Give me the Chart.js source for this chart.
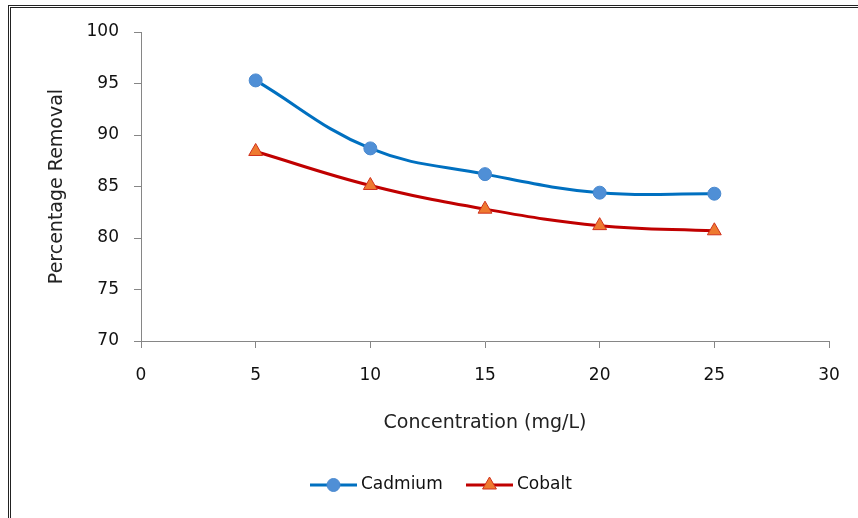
<!DOCTYPE html>
<html>
<head>
<meta charset="utf-8">
<script src="https://cdn.jsdelivr.net/npm/chart.js@4.4.1/dist/chart.umd.min.js"></script>
<style>
  html, body { margin: 0; padding: 0; background: #fff; }
  #wrap { position: relative; width: 858px; height: 518px; overflow: hidden; }
  #frame { position: absolute; left: 8px; top: 5px; right: -10px; bottom: -10px;
           border-top: 3px double #222; border-left: 3px double #222; }
  canvas { position: absolute; left: 0; top: 0; }
</style>
</head>
<body>
<div id="wrap">
  <div id="frame"></div>
  <canvas id="removalChart" width="858" height="518"></canvas>
</div>
<script>
// valores
const concentrations = [5, 10, 15, 20, 25];
const cadmiumRemoval = [95.3, 88.7, 86.2, 84.4, 84.3];
const cobaltRemoval = [88.4, 85.1, 82.8, 81.2, 80.7];
const xTicks = [0, 5, 10, 15, 20, 25, 30];
const yTicks = [70, 75, 80, 85, 90, 95, 100];

const FONT = '"DejaVu Sans", sans-serif';
const axisGray = '#868686';

const toPoints = (vals) => vals.map((v, i) => ({ x: concentrations[i], y: v }));

// leyenda propia: linea + marcador + texto
const lineLegend = {
    id: 'lineLegend',
    afterDraw(chart) {
        const ctx = chart.ctx;
        const y = 485;
        let x = 310;
        ctx.save();
        ctx.font = '17px ' + FONT;
        ctx.textBaseline = 'middle';
        chart.data.datasets.forEach(ds => {
            ctx.strokeStyle = ds.borderColor;
            ctx.lineWidth = 3;
            ctx.beginPath();
            ctx.moveTo(x, y);
            ctx.lineTo(x + 47, y);
            ctx.stroke();
            ctx.fillStyle = ds.pointBackgroundColor;
            ctx.strokeStyle = ds.pointBorderColor;
            ctx.lineWidth = ds.pointBorderWidth;
            ctx.beginPath();
            if (ds.pointStyle === 'circle') {
                ctx.arc(x + 23.5, y, ds.pointRadius, 0, Math.PI * 2);
            } else {
                const r = ds.pointRadius;
                ctx.moveTo(x + 23.5, y - r);
                ctx.lineTo(x + 23.5 + r * 0.866, y + r * 0.5);
                ctx.lineTo(x + 23.5 - r * 0.866, y + r * 0.5);
                ctx.closePath();
            }
            ctx.fill();
            ctx.stroke();
            ctx.fillStyle = '#111';
            ctx.textAlign = 'left';
            ctx.fillText(ds.label, x + 51, y);
            x += 156;
        });
        ctx.restore();
    }
};

const ctx = document.getElementById('removalChart').getContext('2d');

const removalChart = new Chart(ctx, {
    type: 'line',
    data: {
        datasets: [
            {
                label: 'Cadmium',
                data: toPoints(cadmiumRemoval),
                borderColor: '#0070C0',
                borderWidth: 3,
                pointStyle: 'circle',
                pointRadius: 6.5,
                pointBackgroundColor: '#4F8FD6',
                pointBorderColor: '#4A89CF',
                pointBorderWidth: 1,
                tension: 0.4
            },
            {
                label: 'Cobalt',
                data: toPoints(cobaltRemoval),
                borderColor: '#C00000',
                borderWidth: 3,
                pointStyle: 'triangle',
                pointRadius: 8,
                pointBackgroundColor: '#EE7A30',
                pointBorderColor: '#D0301C',
                pointBorderWidth: 1,
                tension: 0.4
            }
        ]
    },
    options: {
        responsive: false,
        animation: false,
        devicePixelRatio: 1,
        layout: { padding: { top: 32, right: 29, bottom: 77, left: 38 } },
        plugins: {
            legend: { display: false },
            tooltip: { enabled: false }
        },
        scales: {
            x: {
                type: 'linear',
                min: 0,
                max: 30,
                afterBuildTicks: s => { s.ticks = xTicks.map(v => ({ value: v })); },
                afterFit: s => { s.height = 100; },
                grid: { drawOnChartArea: false, drawTicks: true, tickLength: 7, color: axisGray },
                border: { color: axisGray, width: 1 },
                ticks: { padding: 17, color: '#111', font: { family: FONT, size: 17 } },
                title: {
                    display: true,
                    text: 'Concentration (mg/L)',
                    color: '#222',
                    font: { family: FONT, size: 19 },
                    padding: { top: 0, bottom: 7 }
                }
            },
            y: {
                min: 70,
                max: 100,
                afterBuildTicks: s => { s.ticks = yTicks.map(v => ({ value: v })); },
                afterFit: s => { s.width = 103; },
                grid: { drawOnChartArea: false, drawTicks: true, tickLength: 7, color: axisGray },
                border: { color: axisGray, width: 1 },
                ticks: { padding: 15, color: '#111', font: { family: FONT, size: 17 } },
                title: {
                    display: true,
                    text: 'Percentage Removal',
                    color: '#222',
                    font: { family: FONT, size: 19 },
                    padding: { top: 8, bottom: 0 }
                }
            }
        }
    },
    plugins: [lineLegend]
});
</script>
</body>
</html>
